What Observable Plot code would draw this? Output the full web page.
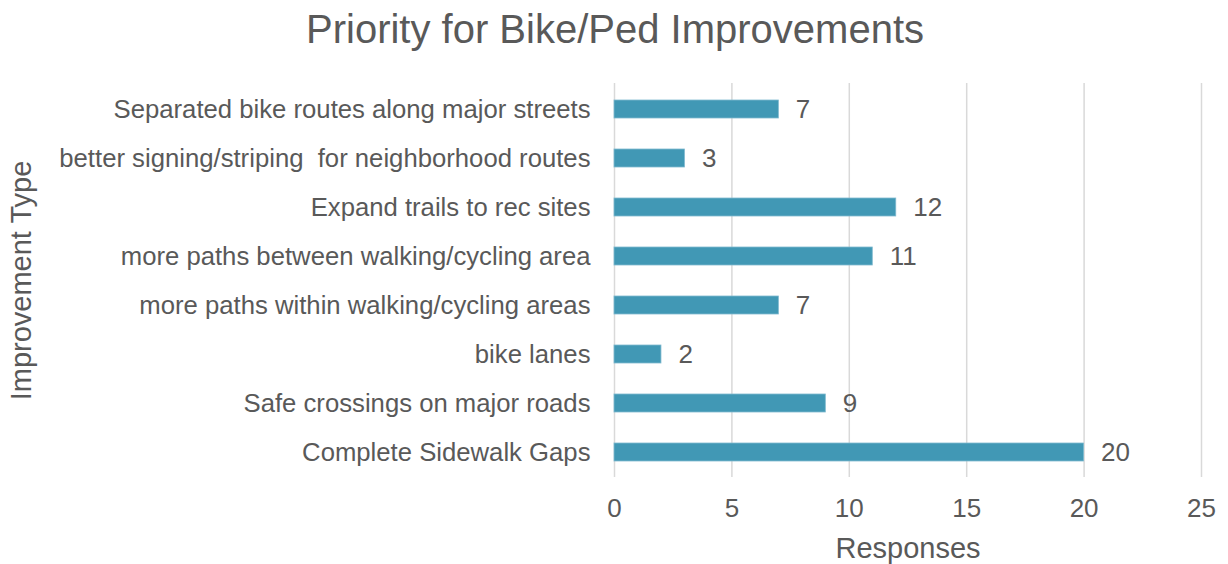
<!DOCTYPE html>
<html>
<head>
<meta charset="utf-8">
<script src="https://cdn.jsdelivr.net/npm/d3@7"></script>
<script src="https://cdn.jsdelivr.net/npm/@observablehq/plot@0.6"></script>
<style>
  html, body { margin: 0; padding: 0; background: #fff; }
  #wrap { width: 1228px; height: 564px; position: relative; font-family: "Liberation Sans", Arial, sans-serif; }
  #title { height: 66px; line-height: 58px; text-align: center; font-size: 40px; color: #595959; padding-left: 2px; }
  svg { display: block; }
</style>
</head>
<body>
<div id="wrap">
  <div id="title">Priority for Bike/Ped Improvements</div>
  <div id="chart"></div>
</div>
<script>
const categories = [
  "Separated bike routes along major streets",
  "better signing/striping  for neighborhood routes",
  "Expand trails to rec sites",
  "more paths between walking/cycling area",
  "more paths within walking/cycling areas",
  "bike lanes",
  "Safe crossings on major roads",
  "Complete Sidewalk Gaps"
];
const responses = [7, 3, 12, 11, 7, 2, 9, 20];
const xTicks = [0, 5, 10, 15, 20, 25];

const data = categories.map((c, i) => ({category: c, value: responses[i]}));

const textColor = "#595959";

const chart = Plot.plot({
  width: 1228,
  height: 498,
  marginTop: 17,
  marginBottom: 87,
  marginLeft: 614,
  marginRight: 27,
  style: { fontFamily: "'Liberation Sans', Arial, sans-serif", fontSize: "25.7px", color: textColor, background: "#fff" },
  x: { domain: [0, 25], ticks: xTicks },
  y: { domain: categories, paddingInner: 0.635, paddingOuter: 0.3175 },
  marks: [
    Plot.ruleX(xTicks, { stroke: "#d9d9d9", strokeWidth: 1.5 }),
    Plot.barX(data, { x: "value", y: "category", fill: "#4198b5", stroke: "#7fb9cf", strokeWidth: 0.8 }),
    Plot.text(data, { x: "value", y: "category", text: d => String(d.value), textAnchor: "start", dx: 17, fill: textColor, fontSize: 26 }),
    Plot.axisX({ ticks: xTicks, tickSize: 0, tickPadding: 21, fontSize: 26, labelArrow: "none", label: null }),
    Plot.axisX({ ticks: [], tickSize: 0, fontSize: 29, label: "Responses", labelAnchor: "center", labelOffset: 80, labelArrow: "none" }),
    Plot.axisY({ tickSize: 0, tickPadding: 24, fontSize: 25.7, label: null, textOverflow: null }),
    Plot.axisY({ ticks: [], tickSize: 0, fontSize: 29, label: "Improvement Type", labelAnchor: "center", labelOffset: 604, labelArrow: "none" })
  ]
});
document.getElementById("chart").appendChild(chart);
</script>
</body>
</html>
